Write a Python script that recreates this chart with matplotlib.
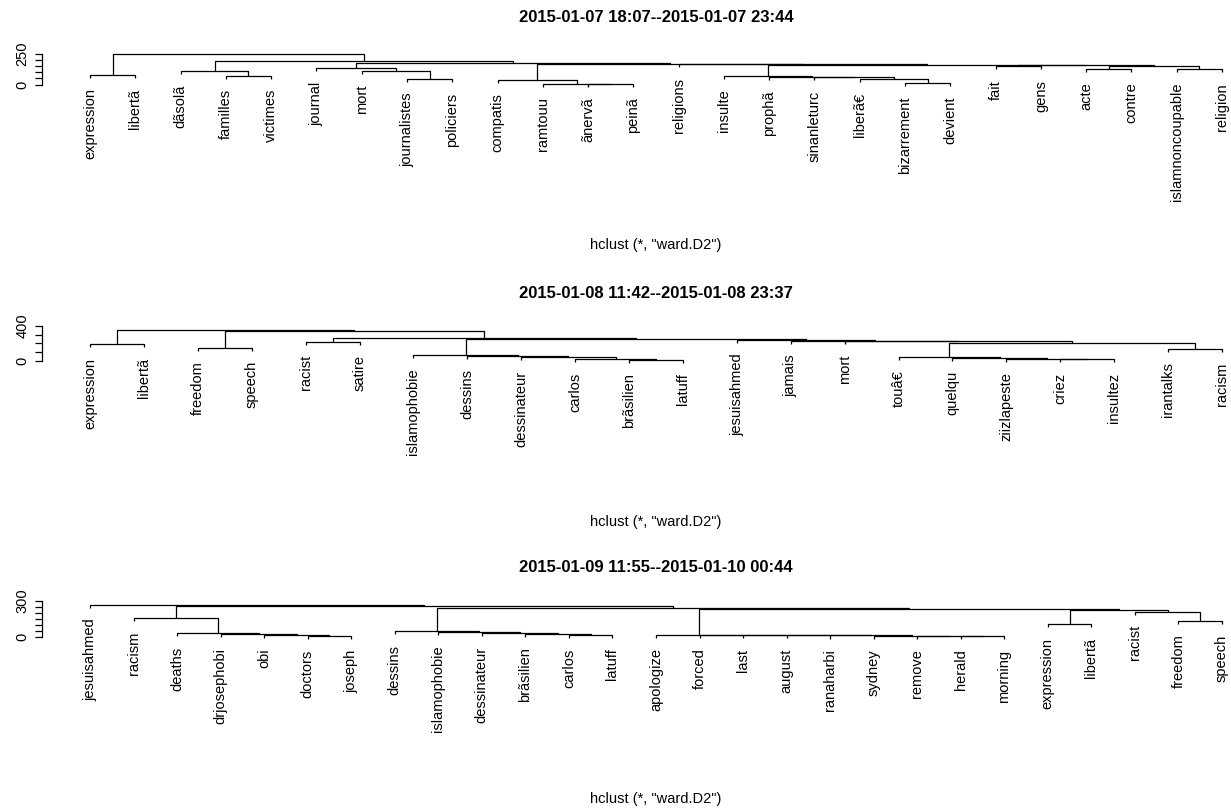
import matplotlib.pyplot as plt
import numpy as np

plt.rcParams['font.family'] = ['Liberation Sans', 'DejaVu Sans']

W, H = 1231, 808

# --- data (leaf labels in plotted order, hclust-style merge table) ---
titles = ["2015-01-07 18:07--2015-01-07 23:44",
          "2015-01-08 11:42--2015-01-08 23:37",
          "2015-01-09 11:55--2015-01-10 00:44"]
subtitle = 'hclust (*, "ward.D2")'

labels_1 = ["expression", "libertã", "dãsolã", "familles", "victimes", "journal", "mort",
            "journalistes", "policiers", "compatis", "ramtouu", "ãnervã", "peinã", "religions",
            "insulte", "prophã", "sinanleturc", "liberã€", "bizarrement", "devient", "fait",
            "gens", "acte", "contre", "islamnoncoupable", "religion"]
merge_1 = [(-12, -13), (-11, 1), (-10, 2), (-19, -20), (-18, 4), (-17, 5), (-16, 6), (-15, 7),
           (-8, -9), (-7, 9), (-6, 10), (-4, -5), (-3, 12), (-1, -2), (-21, -22), (-23, -24),
           (-25, -26), (16, 17), (15, 18), (8, 19), (-14, 20), (3, 21), (11, 22), (13, 23),
           (14, 24)]
height_1 = [3, 8, 37, 12, 41, 57, 63, 67, 42, 110, 131, 72, 108, 76, 146, 123, 121, 151, 155,
            159, 162, 165, 173, 188, 245]

labels_2 = ["expression", "libertã", "freedom", "speech", "racist", "satire", "islamophobie",
            "dessins", "dessinateur", "carlos", "brãsilien", "latuff", "jesuisahmed", "jamais",
            "mort", "touâ€", "quelqu", "ziizlapeste", "criez", "insultez", "irantalks", "racism"]
merge_2 = [(-11, -12), (-10, 1), (-9, 2), (-8, 3), (-7, 4), (-19, -20), (-18, 6), (-17, 7),
           (-16, 8), (-21, -22), (9, 10), (-15, 11), (-14, 12), (-13, 13), (5, 14), (-5, -6),
           (16, 15), (-3, -4), (18, 17), (-1, -2), (20, 19)]
height_2 = [6, 17, 37, 56, 64, 14, 21, 32, 44, 133, 199, 226, 229, 234, 249, 218, 257, 148,
            342, 188, 348]

labels_3 = ["jesuisahmed", "racism", "deaths", "drjosephobi", "obi", "doctors", "joseph",
            "dessins", "islamophobie", "dessinateur", "brãsilien", "carlos", "latuff",
            "apologize", "forced", "last", "august", "ranaharbi", "sydney", "remove", "herald",
            "morning", "expression", "libertã", "racist", "freedom", "speech"]
merge_3 = [(-6, -7), (-5, 1), (-4, 2), (-3, 3), (-2, 4), (-12, -13), (-11, 6), (-10, 7),
           (-9, 8), (-8, 9), (-21, -22), (-20, 11), (-19, 12), (-18, 13), (-17, 14), (-16, 15),
           (-15, 16), (-14, 17), (-26, -27), (-25, 19), (-23, -24), (21, 20), (18, 22),
           (10, 23), (5, 24), (-1, 25)]
height_3 = [4, 13, 21, 27, 154, 13, 21, 27, 38, 46, 4, 6, 8, 9, 10, 11, 12, 13, 131, 210, 103,
            224, 232, 245, 260, 266]

axis_top = [250, 400, 300]
axis_step = [50, 100, 50]


def draw_dendro(ax, labels, merge, height, hang=0.1):
    hang_h = hang * (max(height) - min(height))
    node_x = {}
    for i, ((a, b), h) in enumerate(zip(merge, height), start=1):
        xy = []
        for c in (a, b):
            if c < 0:
                cx, ch = -c, h - hang_h
                ax.annotate(labels[-c - 1], xy=(cx, ch), xytext=(0, -7.5),
                            textcoords='offset points', rotation=90, ha='center', va='top',
                            fontsize=10.5, annotation_clip=False)
            else:
                cx, ch = node_x[c], height[c - 1]
            xy.append((cx, ch))
        (xa, ha), (xb, hb) = xy
        ax.plot([xa, xa, xb, xb], [ha, h, h, hb], color='black', lw=0.9,
                solid_capstyle='butt', clip_on=False)
        node_x[i] = (xa + xb) / 2


fig = plt.figure(figsize=(W / 100, H / 100), dpi=100)

# pixel geometry of each panel: zero line, top tick, title, subtitle
zero_px = [84.5, 360.5, 636.5]
tick_px = [53.5, 326, 601]
title_px = [18, 293, 567]
sub_px = [245, 522, 799]

panels = [(labels_1, merge_1, height_1), (labels_2, merge_2, height_2),
          (labels_3, merge_3, height_3)]

for p, (labels, merge, height) in enumerate(panels):
    n = len(labels)
    k = axis_top[p] / (zero_px[p] - tick_px[p])
    top_px, bot_px = tick_px[p] - 6, zero_px[p] + 8
    ax = fig.add_axes([42 / W, 1 - bot_px / H, (1229 - 42) / W, (bot_px - top_px) / H])
    ax.patch.set_visible(False)
    ax.set_ylim(-(bot_px - zero_px[p]) * k, (zero_px[p] - top_px) * k)
    ppu = (1222 - 90) / (n - 1)
    ax.set_xlim(1 - (90 - 42) / ppu, n + (1229 - 1222) / ppu)

    draw_dendro(ax, labels, merge, height)

    for s in ['top', 'right', 'bottom']:
        ax.spines[s].set_visible(False)
    ax.spines['left'].set_bounds(0, axis_top[p])
    ax.spines['left'].set_linewidth(0.9)
    ticks = np.arange(0, axis_top[p] + 1, axis_step[p])
    ax.set_yticks(ticks)
    ax.set_yticklabels([str(t) if t in (0, axis_top[p]) else '' for t in ticks])
    ax.tick_params(axis='y', length=5, width=0.9, labelsize=10.5, pad=4)
    plt.setp(ax.get_yticklabels(), rotation=90, va='center')
    ax.set_xticks([])

    fig.text(656 / W, 1 - title_px[p] / H, titles[p], ha='center', va='center',
             fontweight='bold', fontsize=12)
    fig.text(656 / W, 1 - sub_px[p] / H, subtitle, ha='center', va='center', fontsize=10.5)

fig.savefig('out.png', dpi=100)
